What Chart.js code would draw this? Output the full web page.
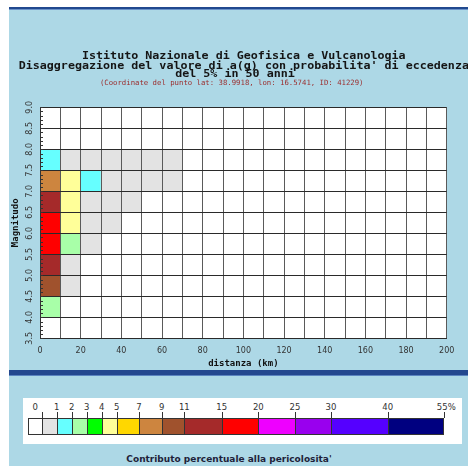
<!DOCTYPE html>
<html>
<head>
<meta charset="utf-8">
<script src="https://cdn.jsdelivr.net/npm/chart.js@4.4.1/dist/chart.umd.min.js"></script>
<style>
  html, body { margin: 0; padding: 0; background: #fff; }
  body { width: 468px; height: 466px; position: relative; overflow: hidden; font-family: "DejaVu Sans", sans-serif; }
  .abs { position: absolute; }
  #topline { left: 9px; top: 7px; width: 459px; height: 2px; background: #21498f; }
  #topline2 { left: 9px; top: 9px; width: 459px; height: 1px; background: #6a93c9; }
  #chartpanel { left: 9px; top: 10px; width: 459px; height: 360px; background: #add8e6; }
  #sep { left: 9px; top: 370px; width: 459px; height: 5px; background: #23488f; }
  #sep2 { left: 9px; top: 375px; width: 459px; height: 1px; background: #5b84c0; }
  #lowpanel { left: 9px; top: 376px; width: 459px; height: 90px; background: #add8e6; }
  #legendbox { left: 22.7px; top: 398px; width: 439px; height: 46px; background: #fff; }
  .cbox { position: absolute; top: 418px; height: 17px; box-sizing: border-box; border: 1px solid #333; border-right: none; }
  .ctick { position: absolute; top: 412px; width: 1px; height: 6px; background: #333; }
  .clabel { position: absolute; top: 402px; font: 8.5px "DejaVu Sans", sans-serif; color: #333; transform: translateX(-50%); white-space: nowrap; }
  #caption { left: 9px; top: 454px; width: 440px; text-align: center; font: bold 9px "DejaVu Sans", sans-serif; color: #1f1f3a; }
</style>
</head>
<body>
<div class="abs" id="topline"></div>
<div class="abs" id="topline2"></div>
<div class="abs" id="chartpanel"><canvas id="chart" width="459" height="360"></canvas></div>
<div class="abs" id="sep"></div>
<div class="abs" id="sep2"></div>
<div class="abs" id="lowpanel"></div>
<div class="abs" id="legendbox"></div>
<div id="colorbar"></div>
<div class="abs" id="caption">Contributo percentuale alla pericolosita'</div>

<script>
// distance bins (km) and lower bounds of the magnitude bins
const distLabels = ['0-10', '10-20', '20-30', '30-40', '40-50', '50-60', '60-70', '70-80', '80-90', '90-100',
  '100-110', '110-120', '120-130', '130-140', '140-150', '150-160', '160-170', '170-180', '180-190', '190-200'];
const magLow = [3.5, 4.0, 4.5, 5.0, 5.5, 6.0, 6.5, 7.0, 7.5, 8.0, 8.5];

// percent contribution per distance bin, one array per magnitude bin (missing = 0)
const m35 = [];
const m40 = [2.6];
const m45 = [9.5, 0.5];
const m50 = [11.5, 0.8];
const m55 = [15.5, 2.5, 0.6];
const m60 = [16.5, 4.2, 0.7, 0.2];
const m65 = [12, 4.4, 0.8, 0.4, 0.2];
const m70 = [7.5, 4.5, 1.5, 0.6, 0.4, 0.2, 0.1];
const m75 = [1.5, 0.5, 0.4, 0.3, 0.2, 0.2, 0.1];
const m80 = [];
const m85 = [];
const contribRows = [m35, m40, m45, m50, m55, m60, m65, m70, m75, m80, m85];

// colour scale
const scaleEdges = [0, 1, 2, 3, 4, 5, 7, 9, 11, 15, 20, 25, 30, 40, 55];
const scaleLabels = ['0', '1', '2', '3', '4', '5', '7', '9', '11', '15', '20', '25', '30', '40', '55%'];
const scaleColors = ['#ffffff', '#e3e3e3', '#66ffff', '#a8ffa8', '#00ff00', '#ffff99', '#ffd700', '#cd853f',
  '#a0522d', '#a52a2a', '#ff0000', '#ee00ff', '#9900ee', '#5500ff', '#000080'];

const titleLines = [
  'Istituto Nazionale di Geofisica e Vulcanologia',
  "Disaggregazione del valore di a(g) con probabilita' di eccedenza",
  'del 5% in 50 anni'
];
const subTitle = '(Coordinate del punto lat: 38.9918, lon: 16.5741, ID: 41229)';

function colorFor(v) {
  if (!v || v <= 0) return scaleColors[0];
  for (let i = 1; i < scaleEdges.length; i++) {
    if (v <= scaleEdges[i]) return scaleColors[i];
  }
  return scaleColors[scaleColors.length - 1];
}

const datasets = contribRows.map((row, r) => {
  const m = magLow[r];
  const vals = distLabels.map((_, i) => row[i] || 0);
  return {
    label: 'M ' + m,
    xAxisID: 'xc',
    yAxisID: 'y',
    data: vals.map(v => (v > 0 ? [m, m + 0.5] : null)),
    backgroundColor: vals.map(colorFor),
    borderWidth: 0,
    barPercentage: 1,
    categoryPercentage: 1,
    grouped: false
  };
});

function squashedText(ctx, text, x, y) {
  ctx.save();
  ctx.translate(x, y);
  ctx.scale(1, 0.84);
  ctx.fillText(text, 0, 0);
  ctx.restore();
}

// white plot area
const plotBg = {
  id: 'plotBg',
  beforeDraw(chart) {
    const { ctx, chartArea: a } = chart;
    ctx.save();
    ctx.fillStyle = '#fff';
    ctx.fillRect(a.left, a.top, a.right - a.left, a.bottom - a.top);
    ctx.restore();
  }
};

// titles, rotated y labels and the small ruler ticks
const headerPlugin = {
  id: 'header',
  afterDraw(chart) {
    const ctx = chart.ctx;
    const area = chart.chartArea;
    const yScale = chart.scales.y;
    ctx.save();
    ctx.textAlign = 'center';
    ctx.textBaseline = 'alphabetic';
    ctx.fillStyle = '#151515';
    ctx.font = 'bold 11.7px "DejaVu Sans Mono"';
    squashedText(ctx, titleLines[0], 234.8, 49);
    squashedText(ctx, titleLines[1], 234.8, 58.5);
    squashedText(ctx, titleLines[2], 226, 66.5);
    ctx.fillStyle = '#9b2d2d';
    ctx.font = '7.3px "DejaVu Sans Mono"';
    ctx.fillText(subTitle, 222.7, 74.5);

    ctx.fillStyle = '#333';
    ctx.font = '8px "DejaVu Sans"';
    ctx.textBaseline = 'middle';
    yScale.ticks.forEach(t => {
      const py = yScale.getPixelForValue(t.value);
      ctx.save();
      ctx.translate(21, py);
      ctx.rotate(-Math.PI / 2);
      ctx.fillText(t.value.toFixed(1), 0, 0);
      ctx.restore();
    });

    ctx.strokeStyle = '#333';
    ctx.lineWidth = 1;
    ctx.beginPath();
    for (let k = 35; k <= 90; k++) {
      const py = Math.round(yScale.getPixelForValue(k / 10)) + 0.5;
      ctx.moveTo(area.left, py);
      ctx.lineTo(area.left + 3, py);
    }
    ctx.stroke();
    ctx.restore();
  }
};

new Chart(document.getElementById('chart'), {
  type: 'bar',
  data: { labels: distLabels, datasets: datasets },
  options: {
    responsive: false,
    animation: false,
    layout: { padding: { top: 97.3, right: 21.3, left: 0, bottom: 0 } },
    plugins: {
      legend: { display: false },
      tooltip: { enabled: false },
      title: { display: false }
    },
    scales: {
      xc: { type: 'category', display: false, offset: true },
      x: {
        type: 'linear',
        position: 'bottom',
        offset: false,
        min: 0,
        max: 200,
        ticks: {
          stepSize: 10,
          autoSkip: false,
          maxRotation: 0,
          padding: 8,
          color: '#333',
          font: { family: 'DejaVu Sans', size: 8 },
          callback: v => (Math.round(v) % 20 === 0 ? Math.round(v) : '')
        },
        grid: { color: '#5a5a5a', drawTicks: false, offset: false, z: 1 },
        border: { color: '#333', z: 1 },
        title: {
          display: true,
          text: 'distanza (km)',
          color: '#111',
          font: { family: 'DejaVu Sans Mono', size: 9, weight: 'bold' },
          padding: { top: 0, bottom: 1 }
        },
        afterFit: s => { s.height = 31.7; }
      },
      y: {
        type: 'linear',
        min: 3.5,
        max: 9,
        ticks: { stepSize: 0.5, display: false },
        grid: { color: '#2a2a2a', drawTicks: false, z: 1 },
        border: { color: '#333', z: 1 },
        title: {
          display: true,
          text: 'Magnitudo',
          color: '#111',
          font: { family: 'DejaVu Sans Mono', size: 9, weight: 'bold' },
          padding: { top: 1, bottom: 0 }
        },
        afterFit: s => { s.width = 31; }
      }
    }
  },
  plugins: [plotBg, headerPlugin]
});

// colour bar below the chart
const barEdges = [28.3, 42.3, 56.7, 71.7, 86.7, 101.7, 116.7, 139, 161.7, 184.3, 221.7, 258.3, 295, 331, 387.7, 444.3];
const colorbar = document.getElementById('colorbar');
scaleColors.forEach((c, i) => {
  const box = document.createElement('div');
  box.className = 'cbox';
  box.style.left = barEdges[i] + 'px';
  box.style.width = (barEdges[i + 1] - barEdges[i]) + 'px';
  box.style.background = c;
  if (i === scaleColors.length - 1) box.style.borderRight = '1px solid #333';
  colorbar.appendChild(box);

  const tick = document.createElement('div');
  tick.className = 'ctick';
  tick.style.left = barEdges[i + 1] + 'px';
  colorbar.appendChild(tick);

  const lab = document.createElement('div');
  lab.className = 'clabel';
  lab.textContent = scaleLabels[i];
  const lx = i === 0 ? (barEdges[0] + barEdges[1]) / 2 : barEdges[i + 1];
  lab.style.left = (i === scaleLabels.length - 1 ? lx + 2 : lx) + 'px';
  colorbar.appendChild(lab);
});
</script>
</body>
</html>
